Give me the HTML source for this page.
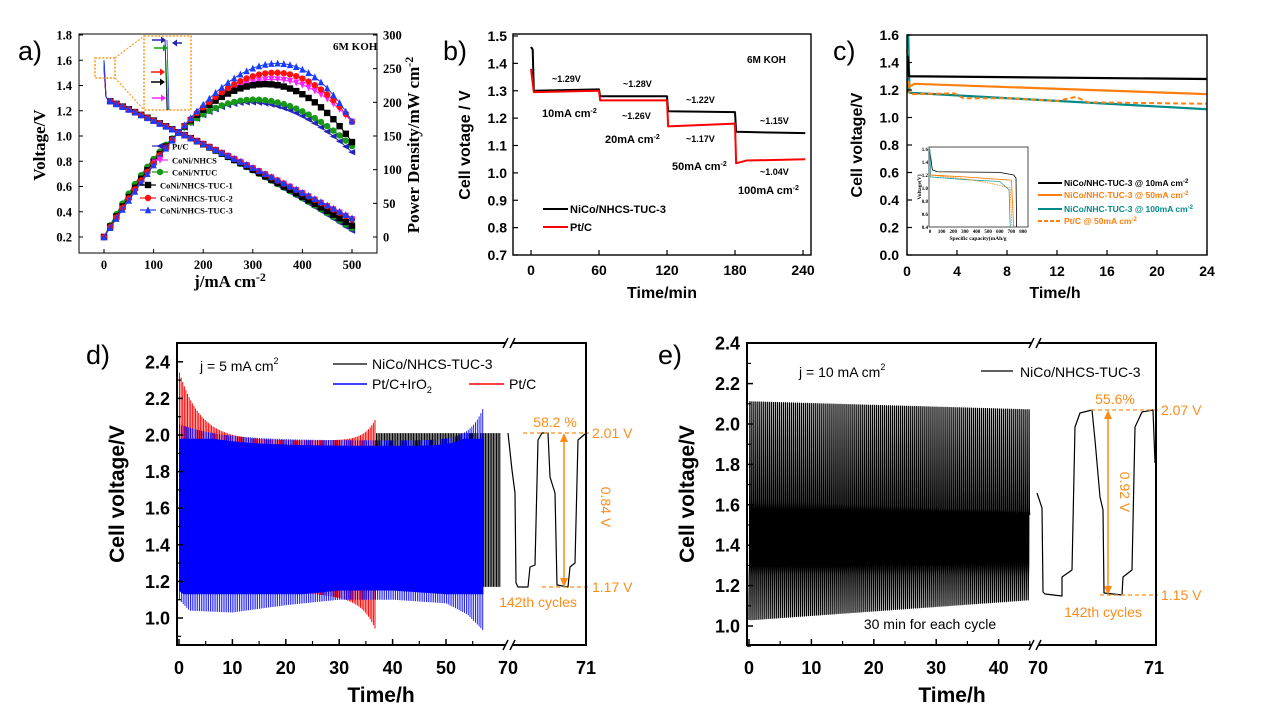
<!DOCTYPE html>
<html><head><meta charset="utf-8">
<style>
html,body{margin:0;padding:0;background:#fff;}
svg{display:block;}
.s{font-family:"Liberation Sans",sans-serif;}
.r{font-family:"Liberation Serif",serif;font-weight:bold;}
.b{font-weight:bold;}
</style></head>
<body>
<svg id="g" width="1268" height="716" viewBox="0 0 1268 716" xmlns="http://www.w3.org/2000/svg">
<rect width="1268" height="716" fill="#fff"/>
<text x="18" y="60" class="s" font-size="27">a)</text>
<text x="443" y="60" class="s" font-size="27">b)</text>
<text x="833" y="60" class="s" font-size="27">c)</text>
<text x="86" y="364" class="s" font-size="27">d)</text>
<text x="658" y="364" class="s" font-size="27">e)</text>

<text x="0" y="0" class="r" font-size="17" transform="translate(45,145) rotate(-90)" text-anchor="middle">Voltage/V</text>
<text x="0" y="0" class="r" font-size="17" transform="translate(419,145) rotate(-90)" text-anchor="middle">Power Density/mW cm<tspan dy="-6" font-size="12">-2</tspan></text>
<text x="230" y="287" class="r" font-size="17" text-anchor="middle">j/mA cm<tspan dy="-6" font-size="12">-2</tspan></text>
<text x="333" y="50" class="r" font-size="11">6M KOH</text>

<text x="0" y="0" class="s b" font-size="16" transform="translate(470,145) rotate(-90)" text-anchor="middle">Cell votage / V</text>
<text x="662" y="298" class="s b" font-size="16" text-anchor="middle">Time/min</text>
<text x="747" y="63" class="s b" font-size="10">6M KOH</text>
<g class="s b" font-size="9">
<text x="552" y="82">~1.29V</text><text x="623" y="87">~1.28V</text><text x="686" y="103">~1.22V</text><text x="760" y="124">~1.15V</text>
<text x="622" y="119">~1.26V</text><text x="686" y="142">~1.17V</text><text x="760" y="175">~1.04V</text>
</g>
<g class="s b" font-size="11">
<text x="542" y="117">10mA cm<tspan dy="-4" font-size="7">-2</tspan></text>
<text x="605" y="143">20mA cm<tspan dy="-4" font-size="7">-2</tspan></text>
<text x="672" y="170">50mA cm<tspan dy="-4" font-size="7">-2</tspan></text>
<text x="738" y="194">100mA cm<tspan dy="-4" font-size="7">-2</tspan></text>
<text x="570" y="213">NiCo/NHCS-TUC-3</text>
<text x="570" y="231">Pt/C</text>
</g>
<line x1="543" y1="209" x2="568" y2="209" stroke="#000" stroke-width="2"/>
<line x1="543" y1="227" x2="568" y2="227" stroke="#f00" stroke-width="2"/>

<text x="0" y="0" class="s b" font-size="16" transform="translate(862,145) rotate(-90)" text-anchor="middle">Cell voltage/V</text>
<text x="1055" y="298" class="s b" font-size="16" text-anchor="middle">Time/h</text>
<g class="s b" font-size="8.5">
<text x="1064" y="186">NiCo/NHC-TUC-3 @ 10mA cm<tspan dy="-3" font-size="6">-2</tspan></text>
<text x="1064" y="198" fill="#ff7f0e">NiCo/NHC-TUC-3 @ 50mA cm<tspan dy="-3" font-size="6">-2</tspan></text>
<text x="1064" y="212" fill="#008b8b">NiCo/NHC-TUC-3 @ 100mA cm<tspan dy="-3" font-size="6">-2</tspan></text>
<text x="1064" y="224" fill="#ff7f0e">Pt/C @ 50mA cm<tspan dy="-3" font-size="6">-2</tspan></text>
</g>
<line x1="1038" y1="183" x2="1062" y2="183" stroke="#000" stroke-width="2"/>
<line x1="1038" y1="195" x2="1062" y2="195" stroke="#ff7f0e" stroke-width="2"/>
<line x1="1038" y1="209" x2="1062" y2="209" stroke="#008b8b" stroke-width="2"/>
<line x1="1038" y1="221" x2="1062" y2="221" stroke="#ff7f0e" stroke-width="2" stroke-dasharray="4,2"/>

<text x="0" y="0" class="s b" font-size="21" transform="translate(124,494) rotate(-90)" text-anchor="middle">Cell voltage/V</text>
<text x="381" y="702" class="s b" font-size="21" text-anchor="middle">Time/h</text>
<text x="0" y="0" class="s b" font-size="21" transform="translate(694,494) rotate(-90)" text-anchor="middle">Cell voltage/V</text>
<text x="952" y="702" class="s b" font-size="21" text-anchor="middle">Time/h</text>

<text x="200" y="371" class="s" font-size="14">j = 5 mA cm<tspan dy="-7" font-size="9">2</tspan></text>
<text x="372" y="369" class="s" font-size="14">NiCo/NHCS-TUC-3</text>
<text x="372" y="389" class="s" font-size="14">Pt/C+IrO<tspan dy="4" font-size="9">2</tspan></text>
<text x="509" y="389" class="s" font-size="14">Pt/C</text>
<text x="799" y="377" class="s" font-size="14">j = 10 mA cm<tspan dy="-7" font-size="9">2</tspan></text>
<text x="1020" y="377" class="s" font-size="14">NiCo/NHCS-TUC-3</text>

<g id="dyn"></g>
</svg>
<script>
(function(){
var NS="http://www.w3.org/2000/svg";
var dyn=document.getElementById('dyn');
function el(tag,attrs,parent,txt){var e=document.createElementNS(NS,tag);for(var k in attrs)e.setAttribute(k,attrs[k]);if(txt!==undefined)e.textContent=txt;(parent||dyn).appendChild(e);return e;}
function pl(pts,stroke,w,extra,parent){var d='M'+pts.map(function(p){return p[0].toFixed(2)+','+p[1].toFixed(2);}).join('L');var a={d:d,fill:'none',stroke:stroke,'stroke-width':w,'stroke-linejoin':'round'};for(var k in extra)a[k]=extra[k];return el('path',a,parent);}
function txt(x,y,s,attrs,parent){var a={x:x,y:y};for(var k in attrs)a[k]=attrs[k];return el('text',a,parent,s);}
function lag(p){return function(x){var s=0;for(var i=0;i<3;i++){var t=p[i][1];for(var j=0;j<3;j++)if(j!=i)t*=(x-p[j][0])/(p[i][0]-p[j][0]);s+=t;}return s;};}
function interp(tab,x){if(x<=tab[0][0])return tab[0][1];for(var i=1;i<tab.length;i++){if(x<=tab[i][0]){var a=tab[i-1],b=tab[i];return a[1]+(b[1]-a[1])*(x-a[0])/(b[0]-a[0]);}}return tab[tab.length-1][1];}
function mp(a,fx,fy){return a.map(function(p){return [fx(p[0]),fy(p[1])];});}

/* ---------- Panel a ---------- */
var xa=function(j){return 104+j*248/500;}, ya=function(v){return 237-(v-0.2)*202/1.6;}, yp=function(p){return 237-p*202/300;};
var ser=[
 ['#2424b8','lt',0.25,200,290,126,1.60],
 ['#ff22ff','dt',0.34,234,350,171,1.52],
 ['#169a16','c',0.27,204,310,135,1.58],
 ['#000000','sq',0.29,227,330,141,1.55],
 ['#ff1010','c',0.34,244,345,171,1.54],
 ['#1a3cff','ut',0.35,257,365,172,1.59]];
function marker(x,y,type,c){
 var s=3.2;
 if(type=='sq')el('rect',{x:x-s,y:y-s,width:2*s,height:2*s,fill:c});
 else if(type=='c')el('circle',{cx:x,cy:y,r:s,fill:c});
 else if(type=='ut')el('polygon',{points:[x,y-s-0.5,x-s,y+s,x+s,y+s].join(','),fill:c});
 else if(type=='dt')el('polygon',{points:[x,y+s+0.5,x-s,y-s,x+s,y-s].join(','),fill:c});
 else if(type=='lt')el('polygon',{points:[x-s-0.5,y,x+s,y-s,x+s,y+s].join(','),fill:c});
}
ser.forEach(function(s){
 var c=s[0];
 var V=lag([[10,1.28],[150,1.03],[500,s[2]]]);
 var pts=[[xa(0),ya(s[6])],[xa(4),ya(1.31)]];
 for(var j=10;j<=500;j+=5)pts.push([xa(j),ya(V(j))]);
 pl(pts,c,1);
 var Ve=lag([[150,155/150],[s[4],s[3]/s[4]],[500,s[5]/500]]);
 var pp=[];for(j=0;j<=500;j+=5)pp.push([xa(j),yp(j*Ve(j))]);
 pl(pp,c,1);
 for(j=0;j<=500;j+=12.5){
   marker(xa(j),yp(j*Ve(j)),s[1],c);
   if(j>=12.5)marker(xa(j),ya(V(j)),s[1],c);
 }
});
var leg=[['Pt/C',172,146],['CoNi/NHCS',172,160],['CoNi/NTUC',172,172],['CoNi/NHCS-TUC-1',160,185],['CoNi/NHCS-TUC-2',160,198],['CoNi/NHCS-TUC-3',160,210]];
leg.forEach(function(l,i){var s=ser[i];pl([[l[1]-20,l[2]],[l[1]-4,l[2]]],s[0],1.2);marker(l[1]-12,l[2],s[1],s[0]);txt(l[1],l[2]+3.5,l[0],{'class':'r','font-size':'8.5'});});
el('rect',{x:95,y:58,width:20,height:20,fill:'none',stroke:'#ff9a20','stroke-width':1.6,'stroke-dasharray':'2,1.6'});
el('rect',{x:144,y:36,width:47,height:74,fill:'#fff',stroke:'#ff9a20','stroke-width':1.6,'stroke-dasharray':'2,1.6'});
pl([[115,58],[144,36]],'#ff9a20',1.2,{'stroke-dasharray':'2,1.6'});
pl([[115,78],[144,110]],'#ff9a20',1.2,{'stroke-dasharray':'2,1.6'});
pl([[165,40],[167,110]],'#000',0.8);pl([[167,40],[169,110]],'#1a3cff',0.8);pl([[166,60],[168,110]],'#169a16',0.8);
[[160,40,'#2424b8'],[162,48,'#169a16'],[159,72,'#ff1010'],[159,82,'#000'],[160,98,'#ff22ff']].forEach(function(a){pl([[a[0]-8,a[1]],[a[0]+4,a[1]]],a[2],1.5);el('polygon',{points:[a[0]+6,a[1],a[0]+1,a[1]-3.5,a[0]+1,a[1]+3.5].join(','),fill:a[2]});});
pl([[182,43],[174,43]],'#2424b8',1.5);el('polygon',{points:'172,43 177,39.5 177,46.5',fill:'#2424b8'});
el('rect',{x:79,y:34,width:298,height:219,fill:'none',stroke:'#000','stroke-width':1});
for(var v=0.2;v<=1.801;v+=0.2){var y=ya(v);txt(72,y+4.5,v.toFixed(1),{'class':'r','font-size':'12.5','text-anchor':'end'});pl([[79,y],[83,y]],'#000',1);}
for(var p=0;p<=300;p+=50){var y=yp(p);txt(383,y+4.5,p,{'class':'r','font-size':'12.5'});pl([[373,y],[377,y]],'#000',1);}
for(var j=0;j<=500;j+=100){txt(xa(j),269,j,{'class':'r','font-size':'12.5','text-anchor':'middle'});pl([[xa(j),253],[xa(j),249]],'#000',1);}

/* ---------- Panel b ---------- */
var xb=function(t){return 531+t*272/240;}, yb=function(v){return 255-(v-0.7)*219/0.8;};
pl(mp([[0,1.46],[1.5,1.45],[2.5,1.30],[60,1.305],[61,1.28],[120,1.28],[121,1.225],[180,1.222],[181,1.15],[242,1.145]],xb,yb),'#000',2);
pl(mp([[0,1.38],[2.5,1.295],[60,1.30],[61,1.265],[120,1.265],[121,1.17],[180,1.18],[181,1.035],[190,1.045],[242,1.05]],xb,yb),'#f00',2);
el('rect',{x:513,y:34,width:298,height:221,fill:'none',stroke:'#000','stroke-width':1.4});
for(var v=0.7;v<=1.501;v+=0.1){var y=yb(v);txt(507,y+5,v.toFixed(1),{'class':'s b','font-size':'14','text-anchor':'end'});pl([[513,y],[518,y]],'#000',1.2);}
for(var t=0;t<=240;t+=60){txt(xb(t),275,t,{'class':'s b','font-size':'14','text-anchor':'middle'});pl([[xb(t),255],[xb(t),250]],'#000',1.2);}

/* ---------- Panel c ---------- */
var xc=function(t){return 907+t*12.5;}, yc=function(v){return 255-v*137.5;};
pl(mp([[0.05,1.18],[0.1,1.6],[0.2,1.18],[24,1.06]],xc,yc),'#008b8b',2.2);
pl(mp([[0.1,1.22],[0.6,1.245],[24,1.17]],xc,yc),'#ff7f0e',2.2);
pl(mp([[0,1.5],[0.2,1.17],[3.8,1.175],[4.5,1.14],[8,1.14],[12,1.12],[13.5,1.15],[14.5,1.11],[24,1.1]],xc,yc),'#ff7f0e',2,{'stroke-dasharray':'5,3'});
pl(mp([[0.05,1.45],[0.15,1.3],[24,1.28]],xc,yc),'#000',2.2);
el('rect',{x:907,y:35,width:300,height:220,fill:'none',stroke:'#000','stroke-width':1.4});
for(var v=0;v<=1.601;v+=0.2){var y=yc(v);txt(899,y+5,v.toFixed(1),{'class':'s b','font-size':'14','text-anchor':'end'});pl([[907,y],[912,y]],'#000',1.2);}
for(var t=0;t<=24;t+=4){txt(xc(t),276,t,{'class':'s b','font-size':'14','text-anchor':'middle'});pl([[xc(t),255],[xc(t),250]],'#000',1.2);}
var xi=function(c){return 930+c*93/800;}, yi=function(v){return 227-(v-0.4)*78/1.2;};
el('rect',{x:929,y:147,width:99,height:80,fill:'#fff',stroke:'#000','stroke-width':0.7});
pl(mp([[0,1.55],[20,1.28],[60,1.25],[600,1.24],[720,1.2],[740,1.15],[745,0.4]],xi,yi),'#000',0.8);
pl(mp([[0,1.2],[300,1.17],[700,1.12],[720,0.4]],xi,yi),'#ff7f0e',0.9);
pl(mp([[0,1.6],[5,1.17],[300,1.13],[600,1.1],[680,0.97],[690,0.4]],xi,yi),'#20a0a0',0.8);
pl(mp([[0,1.2],[300,1.14],[500,1.08],[690,1.0],[705,0.4]],xi,yi),'#ff7f0e',0.8,{'stroke-dasharray':'1.5,1'});
for(var v=0.4;v<=1.601;v+=0.2){txt(928,yi(v)+2,v.toFixed(1),{'class':'r','font-size':'5','text-anchor':'end','font-weight':'normal'});}
for(var c=0;c<=800;c+=100){txt(xi(c),233,c,{'class':'r','font-size':'5','text-anchor':'middle','font-weight':'normal'});}
txt(978,240,'Specific capacity(mAh/g',{'class':'r','font-size':'5.5','text-anchor':'middle'});
txt(0,0,'Voltage(V)',{'class':'r','font-size':'5.5','text-anchor':'middle',transform:'translate(921,187) rotate(-90)'});

/* ---------- Panel d ---------- */
var xd=function(t){return 179+t*5.34;}, yd=function(v){return 618-(v-1)*183;};
for(var x=xd(37);x<=501;x+=1.6){pl([[x,yd(1.17)],[x,yd(2.01)]],'#000',1.1);}
for(var t=0.1;t<=37;t+=0.3){var up=1.97+0.38*Math.exp(-t/4)+0.13*Math.exp((t-37)/2);var lo=1.2-0.08*t/30-0.18*Math.exp((t-37)/2.5);pl([[xd(t),yd(lo)],[xd(t),yd(up)]],'#f00',1);}
var lowTab=[[0,1.1],[2,1.04],[10,1.03],[20,1.07],[30,1.1],[40,1.1],[50,1.08],[54,1.02],[57,0.93]];
function bup(t){return 1.97+0.09*Math.exp(-t/8)+0.18*Math.exp((t-57)/2.5);}
var body=[];for(var t=0;t<=57;t+=0.5)body.push([xd(t),yd(Math.min(bup(t)-0.03,1.98))]);
for(var t=57;t>=0;t-=0.5)body.push([xd(t),yd(Math.max(interp(lowTab,t)+0.05,1.13))]);
el('polygon',{points:body.map(function(p){return p[0].toFixed(1)+','+p[1].toFixed(1);}).join(' '),fill:'#0000ff'});
for(var t=0.1;t<=57;t+=0.34){pl([[xd(t),yd(interp(lowTab,t))],[xd(t),yd(bup(t))]],'#0000ff',0.85);}
pl([[508,433],[512,470],[515,493],[516,583],[518,587],[528,587],[530,567],[535,565],[538,440],[542,433],[548,433],[550,477],[555,493],[557,585],[568,587],[570,567],[575,563],[578,440],[585,434]],'#000',1.2);
var O='#ff8c1a';
pl([[523,433],[589,433]],O,1.2,{'stroke-dasharray':'4,3'});
pl([[542,587],[589,587]],O,1.2,{'stroke-dasharray':'4,3'});
pl([[564,440],[564,580]],O,1.5);
el('polygon',{points:'564,433 560,442 568,442',fill:O});el('polygon',{points:'564,587 560,578 568,578',fill:O});
txt(555,427,'58.2 %',{'class':'s','font-size':'14',fill:O,'text-anchor':'middle'});
txt(592,438,'2.01 V',{'class':'s','font-size':'14',fill:O});
txt(592,592,'1.17 V',{'class':'s','font-size':'14',fill:O});
txt(538,607,'142th cycles',{'class':'s','font-size':'14',fill:O,'text-anchor':'middle'});
txt(0,0,'0.84 V',{'class':'s','font-size':'14',fill:O,'text-anchor':'middle',transform:'translate(601,507) rotate(90)'});
pl([[333,364],[367,364]],'#000',1.2);
pl([[333,384],[367,384]],'#0000ff',1.5);
pl([[469,384],[504,384]],'#f00',1.5);
function frame(l,t,r,b,bx){
 el('rect',{x:l,y:t,width:r-l,height:b-t,fill:'none',stroke:'#000','stroke-width':2});
 el('rect',{x:bx-4,y:t-3,width:8,height:6,fill:'#fff'});el('rect',{x:bx-4,y:b-3,width:8,height:6,fill:'#fff'});
 [t,b].forEach(function(y){pl([[bx-6,y+5],[bx-1,y-5]],'#000',1.5);pl([[bx+1,y+5],[bx+6,y-5]],'#000',1.5);});
}
frame(177,343,586,645,509);
for(var v=1.0;v<=2.401;v+=0.2){var y=yd(v);txt(170,y+6.5,v.toFixed(1),{'class':'s b','font-size':'18','text-anchor':'end'});pl([[177,y],[183,y]],'#000',1.5);pl([[177,y+18.3],[181,y+18.3]],'#000',1.2);}
pl([[177,yd(0.8)+18.3],[181,yd(0.8)+18.3]],'#000',1.2);
for(var t=0;t<=50;t+=10){txt(xd(t),674,t,{'class':'s b','font-size':'18','text-anchor':'middle'});pl([[xd(t),645],[xd(t),639]],'#000',1.5);pl([[xd(t+5),645],[xd(t+5),641]],'#000',1.2);}
txt(508,674,'70',{'class':'s b','font-size':'18','text-anchor':'middle'});txt(586,674,'71',{'class':'s b','font-size':'18','text-anchor':'middle'});

/* ---------- Panel e ---------- */
var ye=function(v){return 626-(v-1)*202;};
var pts=[];
for(var x=749;x<=1029;x+=1.98){var f=(x-749)/281;var hi=2.11-0.04*f,lo=1.03+0.10*f;
 pts.push([x,ye(lo)],[x+0.25,ye(1.25)],[x+0.5,ye(1.3)],[x+0.9,ye(hi)],[x+1.2,ye(1.62-0.05*f)],[x+1.5,ye(1.55)]);}
pl(pts,'#000',1.25);
pl([[1037,493],[1042,508],[1043,592],[1045,594],[1062,596],[1062,577],[1072,570],[1075,427],[1080,413],[1092,410],[1095,440],[1100,497],[1103,510],[1104,593],[1122,595],[1123,577],[1132,570],[1135,427],[1142,412],[1153,410],[1155,463]],'#000',1.2);
pl([[1091,410],[1158,410]],O,1.2,{'stroke-dasharray':'4,3'});
pl([[1100,595],[1158,595]],O,1.2,{'stroke-dasharray':'4,3'});
pl([[1108,417],[1108,588]],O,1.5);
el('polygon',{points:'1108,410 1104,419 1112,419',fill:O});el('polygon',{points:'1108,595 1104,586 1112,586',fill:O});
txt(1115,404,'55.6%',{'class':'s','font-size':'14',fill:O,'text-anchor':'middle'});
txt(1161,415,'2.07 V',{'class':'s','font-size':'14',fill:O});
txt(1161,600,'1.15 V',{'class':'s','font-size':'14',fill:O});
txt(1103,617,'142th cycles',{'class':'s','font-size':'14',fill:O,'text-anchor':'middle'});
txt(0,0,'0.92 V',{'class':'s','font-size':'14',fill:O,'text-anchor':'middle',transform:'translate(1120,492) rotate(90)'});
txt(930,629,'30 min for each cycle',{'class':'s','font-size':'14','text-anchor':'middle'});
pl([[981,371],[1013,371]],'#000',1.2);
frame(747,343,1156,645,1035);
for(var v=1.0;v<=2.401;v+=0.2){var y=ye(v);txt(740,y+6.5,v.toFixed(1),{'class':'s b','font-size':'18','text-anchor':'end'});pl([[747,y],[753,y]],'#000',1.5);if(v<2.39)pl([[747,y-20.2],[751,y-20.2]],'#000',1.2);}
pl([[747,ye(1)+20.2],[751,ye(1)+20.2]],'#000',1.2);
for(var t=0;t<=40;t+=10){var x=749+t*6.24;txt(x,674,t,{'class':'s b','font-size':'18','text-anchor':'middle'});pl([[x,645],[x,639]],'#000',1.5);pl([[x+31.2,645],[x+31.2,641]],'#000',1.2);}
txt(1038,674,'70',{'class':'s b','font-size':'18','text-anchor':'middle'});txt(1154,674,'71',{'class':'s b','font-size':'18','text-anchor':'middle'});
pl([[1096,645],[1096,640]],'#000',1.5);
})();
</script>
</body></html>
